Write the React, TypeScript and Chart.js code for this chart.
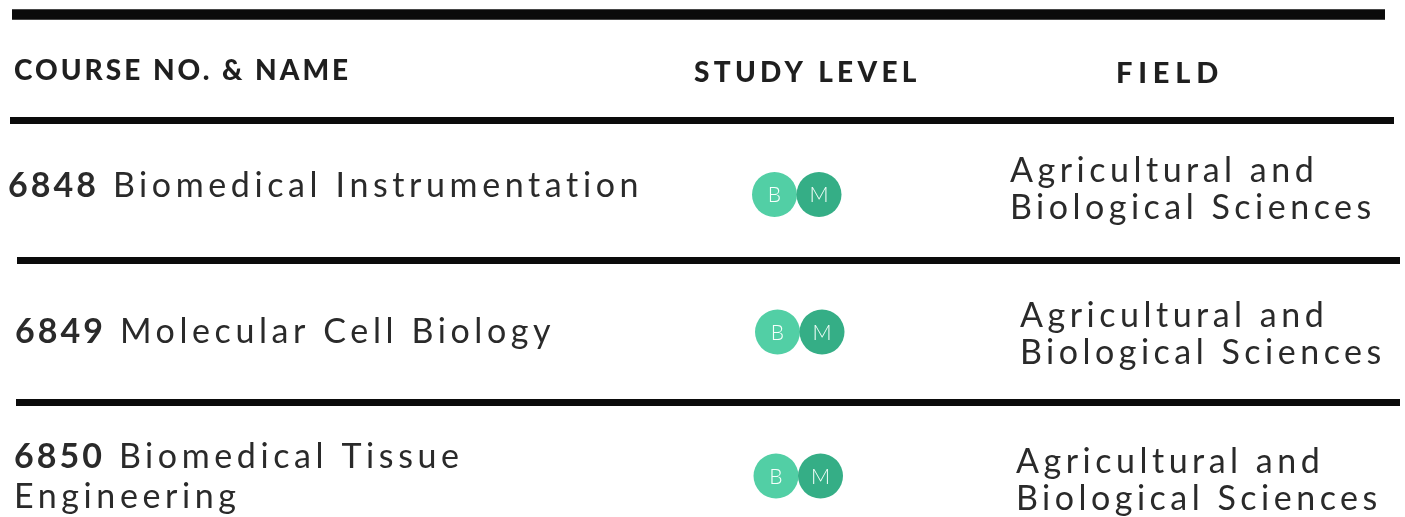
import React, { useEffect, useRef } from "react";
import { Chart, registerables } from "chart.js";

Chart.register(...registerables);

// ---- content ----
const headers = ["COURSE NO. & NAME", "STUDY LEVEL", "FIELD"];
const courseNumbers = ["6848", "6849", "6850"];
const courseNames = [
  ["Biomedical Instrumentation"],
  ["Molecular Cell Biology"],
  ["Biomedical Tissue", "Engineering"],
];
const studyLevels = [
  ["B", "M"],
  ["B", "M"],
  ["B", "M"],
];
const fields = [
  ["Agricultural and", "Biological Sciences"],
  ["Agricultural and", "Biological Sciences"],
  ["Agricultural and", "Biological Sciences"],
];

// ---- layout (scale units; scales span the canvas) ----
const W = 1405;
const H = 517;
const headerX = [14, 694, 1116];
const headerY = [80, 82, 83];
const headerSpacing = [3.0, 4.3, 5.8];
const numberX = [8, 15, 14];
const nameBaseY = [197, 343, 468];
const nameLineGap = 40;
const fieldX = [1010, 1020, 1016];
const fieldBaseY = [182, 327, 473];
const fieldLineGap = 37;
const levelX = [774.5, 777.5, 776];
const levelY = [194.5, 332, 476];
const levelStep = 44.5;
const levelColors: Record<string, string> = { B: "#52cfa5", M: "#35ae86" };
const dividerY = [14.5, 120.5, 260.5, 402.5];
const dividerX1 = [12, 10, 17, 16];
const dividerX2 = [1385, 1394, 1400, 1400];
const dividerW = [10.5, 7, 7, 7];

const BODY_FONT = "Lato";

const textPlugin = {
  id: "tableText",
  afterDatasetsDraw(chart: any) {
    const { ctx, scales } = chart;
    const px = (v: number) => scales.x.getPixelForValue(v);
    const py = (v: number) => scales.y.getPixelForValue(v);
    ctx.save();
    ctx.textBaseline = "alphabetic";
    ctx.textAlign = "left";

    // headers
    headers.forEach((h, i) => {
      ctx.font = `900 ${i === 2 ? 29 : 28}px ${BODY_FONT}`;
      (ctx as any).letterSpacing = `${headerSpacing[i]}px`;
      ctx.fillStyle = "#1f1f1f";
      ctx.fillText(h, px(headerX[i]), py(headerY[i]));
    });

    // rows
    courseNumbers.forEach((num, r) => {
      ctx.fillStyle = "#2a2a2a";
      ctx.font = `bold 34px ${BODY_FONT}`;
      (ctx as any).letterSpacing = "3px";
      const x0 = px(numberX[r]);
      ctx.fillText(num, x0, py(nameBaseY[r]));
      const nw = ctx.measureText(num).width;
      ctx.font = `normal 34px ${BODY_FONT}`;
      (ctx as any).letterSpacing = "4.6px";
      courseNames[r].forEach((line, li) => {
        const x = li === 0 ? x0 + nw + 14 : x0;
        ctx.fillText(line, x, py(nameBaseY[r] + li * nameLineGap));
      });
      (ctx as any).letterSpacing = "4.5px";
      fields[r].forEach((line, li) => {
        ctx.fillText(line, px(fieldX[r]), py(fieldBaseY[r] + li * fieldLineGap));
      });
    });

    // level letters
    const meta = chart.getDatasetMeta(chart.data.datasets.length - 1);
    const letters = chart.data.datasets[chart.data.datasets.length - 1].letters as string[];
    ctx.font = `300 21px ${BODY_FONT}`;
    (ctx as any).letterSpacing = "0px";
    ctx.textAlign = "center";
    ctx.textBaseline = "middle";
    ctx.fillStyle = "#f6fffb";
    meta.data.forEach((pt: any, i: number) => {
      ctx.fillText(letters[i], pt.x, pt.y + 1);
    });
    ctx.restore();
  },
};

export default function App() {
  const ref = useRef<HTMLCanvasElement | null>(null);
  useEffect(() => {
    if (!ref.current) return;
    const dividerSets = dividerY.map((y, i) => ({
      type: "line" as const,
      data: [
        { x: dividerX1[i], y },
        { x: dividerX2[i], y },
      ],
      borderColor: "#0b0b0b",
      borderWidth: dividerW[i],
      borderCapStyle: "butt" as const,
      pointRadius: 0,
      fill: false,
    }));
    const pts: { x: number; y: number }[] = [];
    const cols: string[] = [];
    const letters: string[] = [];
    studyLevels.forEach((lv, r) => {
      lv.forEach((l, k) => {
        pts.push({ x: levelX[r] + k * levelStep, y: levelY[r] });
        cols.push(levelColors[l]);
        letters.push(l);
      });
    });
    const chart = new Chart(ref.current, {
      type: "scatter",
      data: {
        datasets: [
          ...dividerSets,
          {
            type: "scatter",
            data: pts,
            backgroundColor: cols,
            borderWidth: 0,
            pointRadius: 22.5,
            pointHoverRadius: 22.5,
            letters,
          } as any,
        ],
      },
      options: {
        animation: false,
        responsive: false,
        events: [],
        layout: { padding: 0, autoPadding: false },
        plugins: { legend: { display: false }, tooltip: { enabled: false } },
        scales: {
          x: { type: "linear", min: 0, max: W, display: false },
          y: { type: "linear", min: 0, max: H, reverse: true, display: false },
        },
      },
      plugins: [textPlugin],
    });
    return () => chart.destroy();
  }, []);
  return (
    <div style={{ position: "absolute", left: 0, top: 0, width: W, height: H, background: "#fff" }}>
      <canvas ref={ref} width={W} height={H} style={{ display: "block" }} />
    </div>
  );
}
